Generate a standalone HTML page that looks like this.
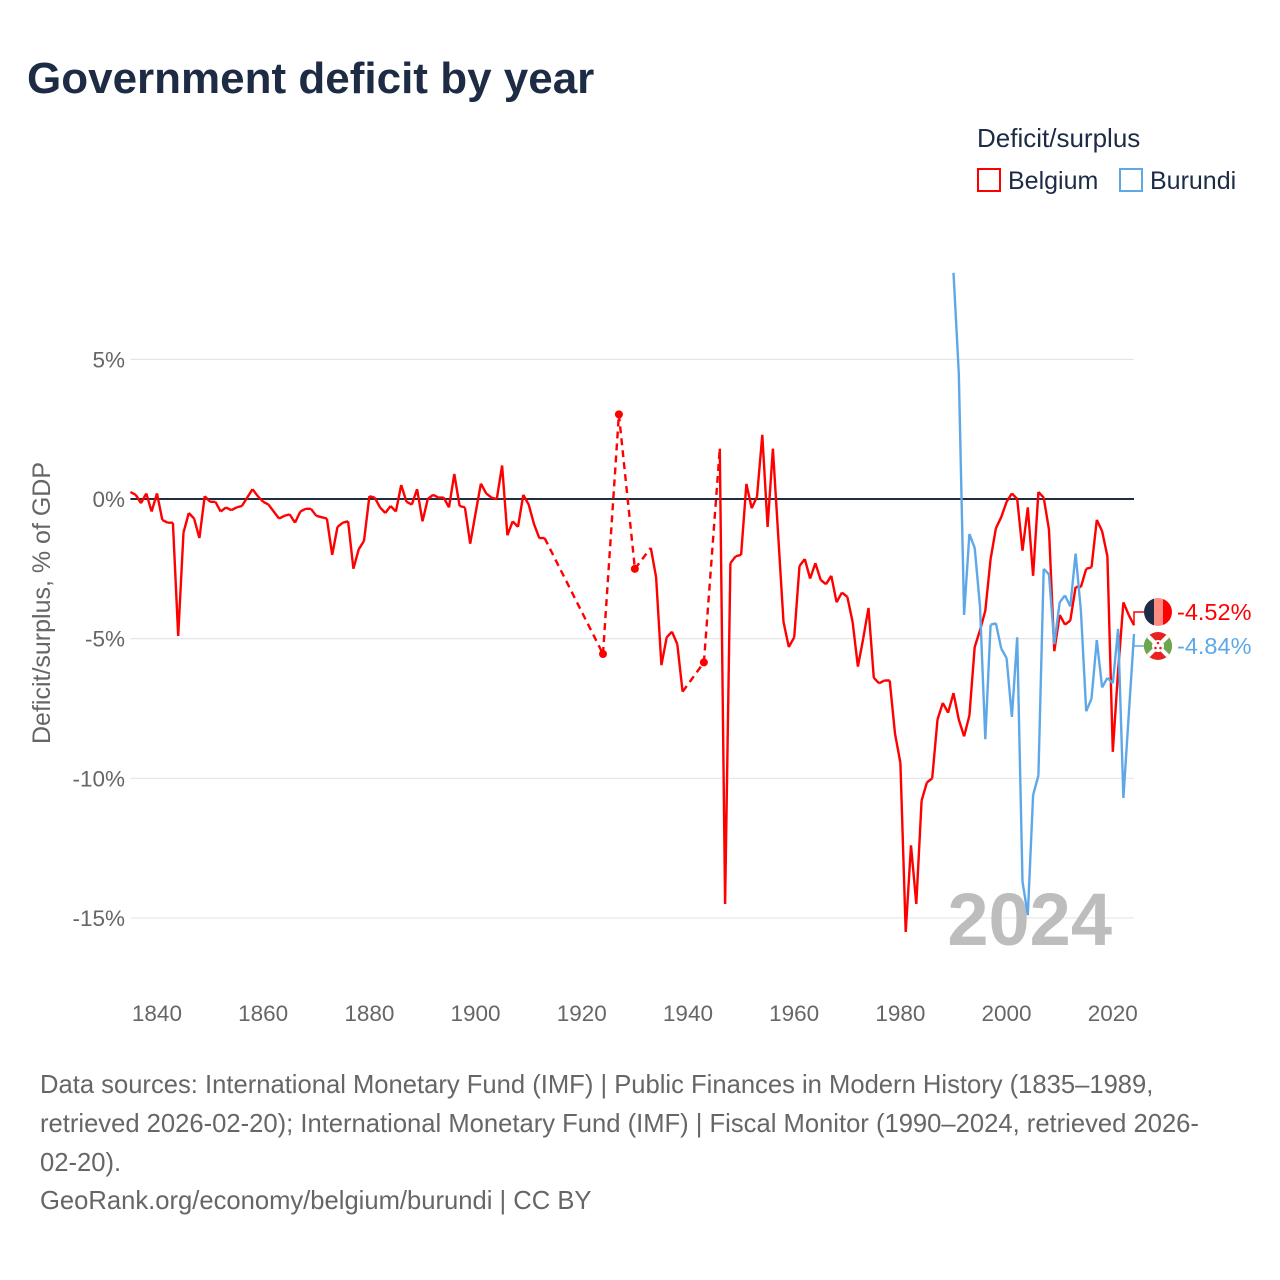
<!DOCTYPE html>
<html><head><meta charset="utf-8">
<style>
body{margin:0;background:#fff;font-family:"Liberation Sans",sans-serif;}
#wrap{position:relative;width:1280px;height:1280px;overflow:hidden;}
</style></head>
<body>
<div id="wrap">
<svg id="chart" width="1280" height="1280" xmlns="http://www.w3.org/2000/svg">
<text x="27" y="93" font-size="44" font-weight="bold" fill="#1d2b45">Government deficit by year</text>
<text x="977" y="147" font-size="26" fill="#1d2b45">Deficit/surplus</text>
<g>
<rect x="978" y="169" width="22" height="22" fill="#fff" stroke="#ff0000" stroke-width="2"/>
<text x="1008" y="189" font-size="25" fill="#1d2b45">Belgium</text></g>
<g>
<rect x="1120" y="169" width="22" height="22" fill="#fff" stroke="#5fa8e8" stroke-width="2"/>
<text x="1150" y="189" font-size="25" fill="#1d2b45">Burundi</text></g>
<g id="grid"></g>
<text x="1112" y="945" font-size="74" font-weight="bold" fill="#bdbdbd" text-anchor="end">2024</text>
<g id="series"></g>
<text transform="translate(50,603) rotate(-90)" font-size="25" fill="#666" text-anchor="middle">Deficit/surplus, % of GDP</text>
<g font-size="25.6" fill="#666">
<text x="40" y="1093">Data sources: International Monetary Fund (IMF) | Public Finances in Modern History (1835–1989,</text>
<text x="40" y="1132">retrieved 2026-02-20); International Monetary Fund (IMF) | Fiscal Monitor (1990–2024, retrieved 2026-</text>
<text x="40" y="1171">02-20).</text>
<text x="40" y="1209">GeoRank.org/economy/belgium/burundi | CC BY</text>
</g>
</svg>
</div>
<script>
const yTicks=[5,0,-5,-10,-15];
const xTicks=[1840,1860,1880,1900,1920,1940,1960,1980,2000,2020];
const belgiumYears=[];for(let y=1835;y<=2024;y++)belgiumYears.push(y);
const belgiumEarly=[0.25,0.15,-0.15,0.2,-0.45,0.2,-0.75,-0.85,-0.85,-4.9,-1.2,-0.5,-0.7,-1.4,0.1,-0.1,-0.1,-0.45,-0.3,-0.4,-0.3,-0.25,0.05,0.35,0.1,-0.1,-0.2,-0.45,-0.7,-0.6,-0.55,-0.85,-0.45,-0.35,-0.35,-0.6,-0.65,-0.7,-2.0,-1.0,-0.85,-0.8,-2.5,-1.8,-1.5,0.1,0.05,-0.3,-0.5,-0.25,-0.45,0.5,-0.1,-0.2,0.35,-0.8,0.0,0.15,0.05,0.05,-0.3,0.9,-0.25,-0.3,-1.6,-0.5,0.55,0.2,0.05,0.0,1.2,-1.3,-0.8,-1.0,0.15,-0.2,-0.9,-1.4,-1.4];
const belgiumInterwar=[null,null,null,null,null,null,null,null,null,null,-5.55,null,null,3.03,null,null,-2.5,null,null,-1.75,-2.8,-5.95,-4.95,-4.75,-5.2,-6.9,null,null,null,-5.85,null,null,1.8];
const belgiumPostwar=[-14.5,-2.3,-2.05,-2.0,0.54,-0.33,0.08,2.3,-1.0,1.8,-1.3,-4.4,-5.3,-4.95,-2.4,-2.15,-2.85,-2.3,-2.9,-3.05,-2.75,-3.7,-3.35,-3.5,-4.4,-6.0,-5.0,-3.9,-6.4,-6.6,-6.5,-6.5,-8.4,-9.45,-15.5,-12.4,-14.5,-10.8,-10.15,-10.0,-7.9,-7.3,-7.65,-6.95,-7.9,-8.5,-7.75,-5.3,-4.7,-4.0,-2.15,-1.05,-0.65,-0.1,0.2,0.0,-1.85,-0.3,-2.75,0.25,0.05,-1.1,-5.45,-4.15,-4.5,-4.35,-3.15,-3.15,-2.5,-2.45,-0.75,-1.15,-2.05,-9.05,-6.15,-3.7,-4.15,-4.52];
const belgiumValues=belgiumEarly.concat(belgiumInterwar,belgiumPostwar);
const burundiYears=[];for(let y=1990;y<=2024;y++)burundiYears.push(y);
const burundiValues=[8.1,4.5,-4.15,-1.25,-1.75,-3.85,-8.6,-4.5,-4.45,-5.35,-5.7,-7.8,-4.95,-13.7,-14.9,-10.6,-9.9,-2.5,-2.7,-5.2,-3.7,-3.45,-3.85,-1.95,-4.0,-7.6,-7.15,-5.05,-6.75,-6.4,-6.6,-4.65,-10.7,-7.75,-4.84];

const NS='http://www.w3.org/2000/svg';
const X0=130.4,X1=1134,Y0=499,PPU=27.93;
function xs(yr){return X0+(yr-1835)*(X1-X0)/(2024-1835);}
function ys(v){return Y0-v*PPU;}
function mk(tag,attrs,parent){const e=document.createElementNS(NS,tag);for(const k in attrs)e.setAttribute(k,attrs[k]);parent.appendChild(e);return e;}
const grid=document.getElementById('grid');
yTicks.forEach(v=>{
  const l=mk('line',{x1:X0,x2:X1,y1:ys(v),y2:ys(v),stroke:v===0?'#1f2d45':'#e6e6e6','stroke-width':v===0?2:1.2},grid);
  
  
  const t=mk('text',{x:125,y:ys(v)+8,'font-size':22.5,fill:'#666','text-anchor':'end'},grid);
  t.textContent=v+'%';
  
  
});
xTicks.forEach(yr=>{
  const t=mk('text',{x:xs(yr),y:1021,'font-size':22.5,fill:'#666','text-anchor':'middle'},grid);
  t.textContent=yr;
  
  
});
const ser=document.getElementById('series');
function drawSeries(years,vals,color,name){
  const g=mk('g',{},ser);
  
  
  let solid='',dashed='',prev=null,prevIdx=-1;
  const pts=[];
  for(let i=0;i<vals.length;i++){
    if(vals[i]===null||vals[i]===undefined)continue;
    const p=[xs(years[i]),ys(vals[i])];
    if(prev){
      const seg='M'+prev[0].toFixed(1)+' '+prev[1].toFixed(1)+'L'+p[0].toFixed(1)+' '+p[1].toFixed(1);
      if(i-prevIdx===1)solid+=seg;else dashed+=seg;
    }
    pts.push([i,p]);prev=p;prevIdx=i;
  }
  mk('path',{d:solid,fill:'none',stroke:color,'stroke-width':2.4,'stroke-linejoin':'round'},g);
  if(dashed)mk('path',{d:dashed,fill:'none',stroke:color,'stroke-width':2.4,'stroke-dasharray':'7 5'},g);
  pts.forEach(([i,p])=>{
    const before=i>0&&vals[i-1]!=null, after=i<vals.length-1&&vals[i+1]!=null;
    if(!before&&!after){const c=mk('circle',{cx:p[0],cy:p[1],r:4,fill:color},g);
      
      }
  });
  return prev;
}
const bEnd=drawSeries(belgiumYears,belgiumValues,'#ff0000','belgium');
const uEnd=drawSeries(burundiYears,burundiValues,'#5fa8e8','burundi');
const lab=mk('g',{},ser);


mk('path',{d:`M${bEnd[0]} ${bEnd[1]}L${bEnd[0]} 612L1144 612`,stroke:'#ff0000','stroke-width':1.5,fill:'none'},lab);
mk('path',{d:`M${uEnd[0]} ${uEnd[1]}L${uEnd[0]} 646L1144 646`,stroke:'#5fa8e8','stroke-width':1.5,fill:'none'},lab);
const cpB=mk('clipPath',{id:'cb'},lab);mk('circle',{cx:1158,cy:612,r:14},cpB);
const fb=mk('g',{'clip-path':'url(#cb)'},lab);


mk('rect',{x:1144,y:598,width:10,height:28,fill:'#1d2b45'},fb);
mk('rect',{x:1154,y:598,width:9,height:28,fill:'#ff8a80'},fb);
mk('rect',{x:1163,y:598,width:10,height:28,fill:'#ff0000'},fb);
const cpU=mk('clipPath',{id:'cu'},lab);mk('circle',{cx:1158,cy:646,r:14},cpU);
const fu=mk('g',{'clip-path':'url(#cu)'},lab);


mk('rect',{x:1144,y:632,width:28,height:28,fill:'#e8231f'},fu);
mk('path',{d:'M1144 632L1158 646L1144 660Z M1172 632L1158 646L1172 660Z',fill:'#6aa84f'},fu);
mk('path',{d:'M1144 632L1172 660M1172 632L1144 660',stroke:'#fff','stroke-width':4},fu);
mk('circle',{cx:1158,cy:646,r:6,fill:'#fff'},fu);
mk('circle',{cx:1158,cy:643,r:1.3,fill:'#e8231f'},fu);
mk('circle',{cx:1155.5,cy:648,r:1.3,fill:'#e8231f'},fu);
mk('circle',{cx:1160.5,cy:648,r:1.3,fill:'#e8231f'},fu);
const t1=mk('text',{x:1177,y:620,'font-size':23.5,fill:'#ff0000'},lab);t1.textContent='-4.52%';


const t2=mk('text',{x:1177,y:654,'font-size':23.5,fill:'#5fa8e8'},lab);t2.textContent='-4.84%';


</script>
</body></html>
